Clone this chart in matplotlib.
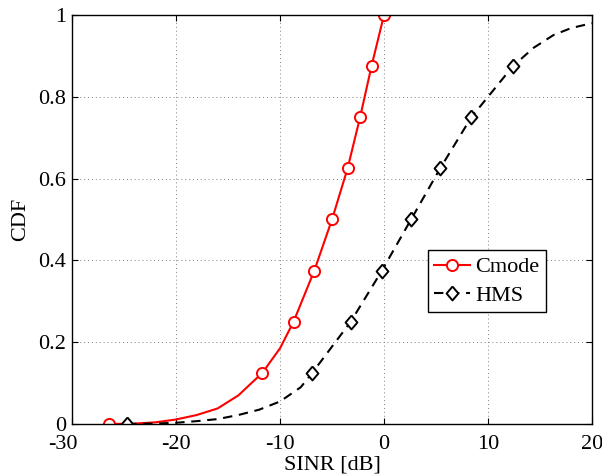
import matplotlib
matplotlib.use("Agg")
import matplotlib.pyplot as plt
import matplotlib.transforms as mtransforms

plt.rcParams["font.family"] = ["Liberation Serif", "DejaVu Serif"]
plt.rcParams["axes.unicode_minus"] = False

# Cmode curve (SINR in dB, CDF)
cmode_x = [-26.4, -24, -22, -20, -18, -16, -14, -11.7, -10, -8.7, -6.7, -5.0, -3.5, -2.3, -1.2, 0.0]
cmode_y = [0.0, 0.001, 0.004, 0.011, 0.022, 0.038, 0.07, 0.125, 0.185, 0.25, 0.375, 0.5, 0.625, 0.75, 0.875, 1.0]
cmode_marks = [0, 7, 9, 10, 11, 12, 13, 14, 15]

# HMS curve
hms_x = [-24.7, -22, -20, -18, -16, -14, -12, -10, -8, -6.9, -3.2, -0.2, 2.6, 5.4, 8.4, 10.0, 12.4, 14.4, 16.3, 18.0, 20.0]
hms_y = [0.0, 0.001, 0.003, 0.007, 0.012, 0.022, 0.035, 0.055, 0.09, 0.125, 0.25, 0.375, 0.5, 0.625, 0.75, 0.80, 0.875, 0.92, 0.951, 0.968, 0.98]
hms_marks = [0, 9, 10, 11, 12, 13, 14, 16]

x_ticks = [-30, -20, -10, 0, 10, 20]
y_ticks = [0, 0.2, 0.4, 0.6, 0.8, 1]
y_tick_labels = ["0", "0.2", "0.4", "0.6", "0.8", "1"]

diamond = [(0, 1), (0.85, 0), (0, -1), (-0.85, 0), (0, 1)]

fig = plt.figure(figsize=(6.02, 4.74), dpi=100)
ax = fig.add_axes([0.1196, 0.1055, 0.8638, 0.8629])

ax.plot(cmode_x, cmode_y, color="red", lw=1.5, marker="o", markersize=8,
        markerfacecolor="white", markeredgecolor="red", markeredgewidth=1.4,
        markevery=cmode_marks, label="Cmode")
ax.plot(hms_x, hms_y, color="black", lw=1.5, linestyle=(0, (4.5, 3.2)), marker=diamond,
        markersize=10, markerfacecolor="white", markeredgecolor="black",
        markeredgewidth=1.4, markevery=hms_marks, label="HMS")

ax.set_xlim(-30, 20)
ax.set_ylim(0, 1)
ax.set_xticks(x_ticks)
ax.set_yticks(y_ticks)
ax.set_yticklabels(y_tick_labels)
ax.tick_params(direction="in", top=True, right=True, length=4, labelsize=16)
ax.tick_params(axis="x", pad=8)
ax.tick_params(axis="y", pad=4)
ax.grid(True, linestyle=(0, (1, 3)), color="gray", lw=0.7)
for s in ax.spines.values():
    s.set_linewidth(1.0)

# the first x tick label sits a bit left of its tick, as in the original
first = ax.xaxis.get_major_ticks()[0].label1
first.set_transform(first.get_transform() +
                    mtransforms.ScaledTranslation(-0.09, 0, fig.dpi_scale_trans))

ax.set_xlabel("SINR [dB]", fontsize=16, labelpad=1)
ax.set_ylabel("CDF", fontsize=16, labelpad=6)

leg = ax.legend(loc="upper left", bbox_to_anchor=(0.684, 0.425), fontsize=16,
                frameon=True, fancybox=False, edgecolor="black", framealpha=1,
                handlelength=1.6, handletextpad=0.25, borderpad=0.3,
                labelspacing=0.35, borderaxespad=0)
leg.get_frame().set_linewidth(1.0)

fig.savefig("out.png", dpi=100)
